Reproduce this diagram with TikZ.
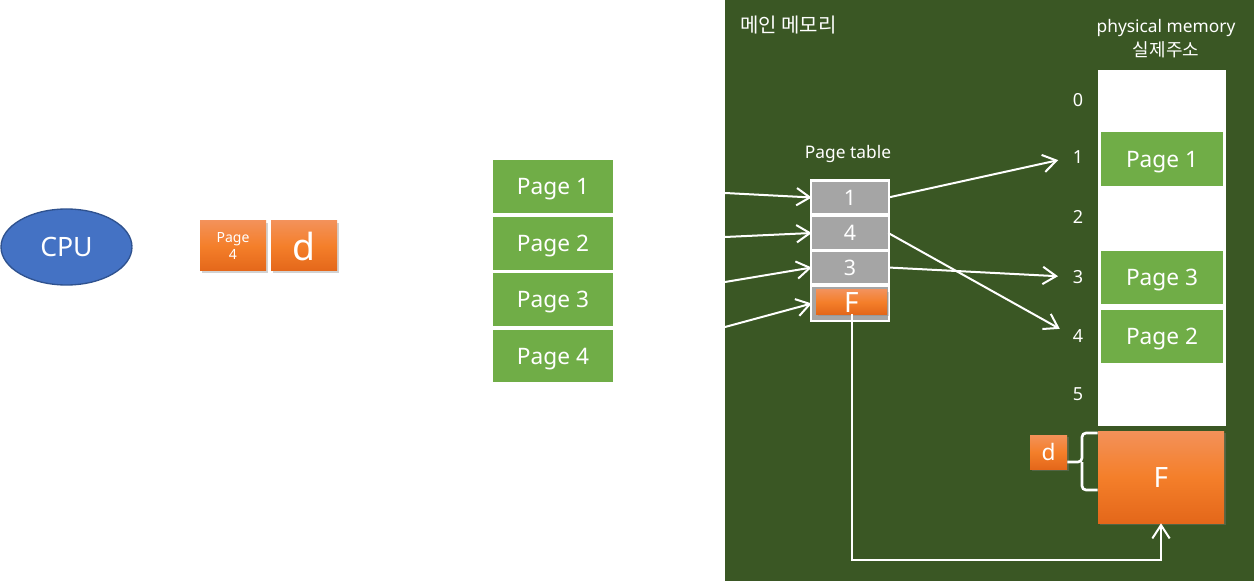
\documentclass[tikz,border=0pt]{standalone}
\usepackage{fontspec}
\setmainfont{Noto Sans}
\newfontfamily\kor{Noto Sans CJK KR}
\usetikzlibrary{arrows.meta,shadows,shapes.geometric}
\definecolor{bgG}{HTML}{3A5724}
\definecolor{pgG}{HTML}{70AD47}
\definecolor{cellG}{HTML}{A5A5A5}
\definecolor{cpuB}{HTML}{4472C4}
\definecolor{cpuE}{HTML}{2F528F}
\definecolor{orT}{HTML}{F39159}
\definecolor{orM}{HTML}{F47F2A}
\definecolor{orB}{HTML}{E4671A}
\newcommand{\fs}[1]{\fontsize{#1}{#1}\selectfont}
\begin{document}
\begin{tikzpicture}[x=0.75pt,y=-0.75pt,
  pagebox/.style={rectangle, fill=pgG, text=white, inner sep=0pt, font=\fs{17}, text height=12.1pt, text depth=0pt},
  cellbox/.style={rectangle, fill=cellG, text=white, inner sep=0pt, minimum width=76*0.75pt, font=\fs{16}, text height=11.4pt, text depth=0pt},
  orbox/.style={rectangle, top color=orT, bottom color=orB, middle color=orM, text=white, inner sep=0pt,
     drop shadow={shadow xshift=1.5pt, shadow yshift=-1.5pt, opacity=0.35}},
  lab/.style={text=white, inner sep=0pt, font=\fs{13.5}, text height=9.6pt, text depth=0pt},
  myarr/.style={draw=white, line width=1.5pt, -{Straight Barb[length=10pt,width=13pt]}}
]
\useasboundingbox (0,0) rectangle (1254,581);
\fill[white] (0,0) rectangle (1254,581);
% left part
\node[ellipse, fill=cpuB, draw=cpuE, line width=1pt, minimum width=131*0.75pt, minimum height=76*0.75pt,
  inner sep=0pt, text=white, font=\fs{20}, text height=14.3pt, text depth=0pt] (cpu) at (66.5,247) {CPU};
\node[orbox, minimum width=66*0.75pt, minimum height=50*0.75pt, align=center, font={\fontsize{10.5}{12.75}\selectfont}] (p4) at (233,246) {Page\\4};
\node[orbox, minimum width=66*0.75pt, minimum height=50*0.75pt, font=\fs{28}, text height=21.3pt, text depth=0pt] (pd) at (304,246) {d};
\draw[white, line width=1pt, -{Triangle[length=5pt,width=6pt]}] (cpu.east) -- (p4.west);

\node[pagebox, minimum width=120*0.75pt, minimum height=53*0.75pt] (lp1) at (553,186.5) {Page 1};
\node[pagebox, minimum width=120*0.75pt, minimum height=53*0.75pt] (lp2) at (553,243.5) {Page 2};
\node[pagebox, minimum width=120*0.75pt, minimum height=53*0.75pt] (lp3) at (553,299.5) {Page 3};
\node[pagebox, minimum width=120*0.75pt, minimum height=52*0.75pt] (lp4) at (553,356) {Page 4};

% main memory
\fill[bgG] (725,0) rectangle (1254,581);
\node[text=white, inner sep=0pt, font=\kor\fs{15}, anchor=west] (mm) at (740,25) {메인 메모리};
\node[text=white, inner sep=0pt, font=\fs{13}] (pt) at (848,154) {Page table};

% page table
\node[fill=white, inner sep=0pt, minimum width=80*0.75pt, minimum height=143*0.75pt] (tab) at (850,250.5) {};
\node[cellbox, minimum height=31*0.75pt] (c1) at (850,197.5) {1};
\node[cellbox, minimum height=32*0.75pt] (c4) at (850,233) {4};
\node[cellbox, minimum height=31*0.75pt] (c3) at (850,267.5) {3};
\node[cellbox, minimum height=33*0.75pt] (cF) at (850,303.5) {};
\node[orbox, minimum width=71*0.75pt, minimum height=24*0.75pt, font=\fs{21}, text height=15pt, text depth=0pt] (oF) at (851.5,302) {F};

% incoming arrows
\coordinate (in1) at (725,193);
\coordinate (in2) at (725,237);
\coordinate (in3) at (725,282);
\coordinate (in4) at (725,327);
\draw[myarr] (in1) -- (c1.west);
\draw[myarr] (in2) -- (c4.west);
\draw[myarr] (in3) -- (c3.west);
\draw[myarr] (in4) -- (cF.west);

% physical memory
\node[text=white, inner sep=0pt, font=\fs{13}] (phm) at (1166,28) {physical memory};
\node[text=white, inner sep=0pt, font=\kor\fs{13.5}] (sil) at (1166,50) {실제주소};
\node[fill=white, inner sep=0pt, minimum width=128*0.75pt, minimum height=356*0.75pt] (col) at (1162,248) {};
\node[pagebox, minimum width=122*0.75pt, minimum height=54*0.75pt] (mp1) at (1162,159) {Page 1};
\node[pagebox, minimum width=122*0.75pt, minimum height=53*0.75pt] (mp3) at (1162,277.5) {Page 3};
\node[pagebox, minimum width=122*0.75pt, minimum height=53*0.75pt] (mp2) at (1162,336.5) {Page 2};

\node[lab] (l0) at (1078,100) {0};
\node[lab] (l1) at (1078,157) {1};
\node[lab] (l2) at (1078,217) {2};
\node[lab] (l3) at (1078,277) {3};
\node[lab] (l4) at (1078,336) {4};
\node[lab] (l5) at (1078,394) {5};

\draw[myarr, shorten >=11pt] (c1.east) -- (l1.west);
\draw[myarr, shorten >=11pt] (c4.east) -- (l4.west);
\draw[myarr, shorten >=11pt] (c3.east) -- (l3.west);

% frame F
\node[orbox, minimum width=126*0.75pt, minimum height=92*0.75pt, font=\fs{21}, text height=15pt, text depth=0pt] (FB) at (1161,477) {F};
\node[orbox, minimum width=37*0.75pt, minimum height=34*0.75pt, font=\fs{17}, text height=12.9pt, text depth=0pt] (dd) at (1048.5,452) {d};
\coordinate (bt) at (FB.west |- 0,433);
\coordinate (bb) at (FB.west |- 0,490);
\coordinate (bm) at (1082,462);
\draw[white, line width=2pt, rounded corners=3pt] (bt) -| (bm) -- (dd.east |- bm);
\draw[white, line width=2pt, rounded corners=3pt] (bb) -| (bm);

\coordinate (bot) at (0,560);
\draw[myarr] (oF.south) -- (oF.south |- bot) -| (FB.south);
\end{tikzpicture}
\end{document}
